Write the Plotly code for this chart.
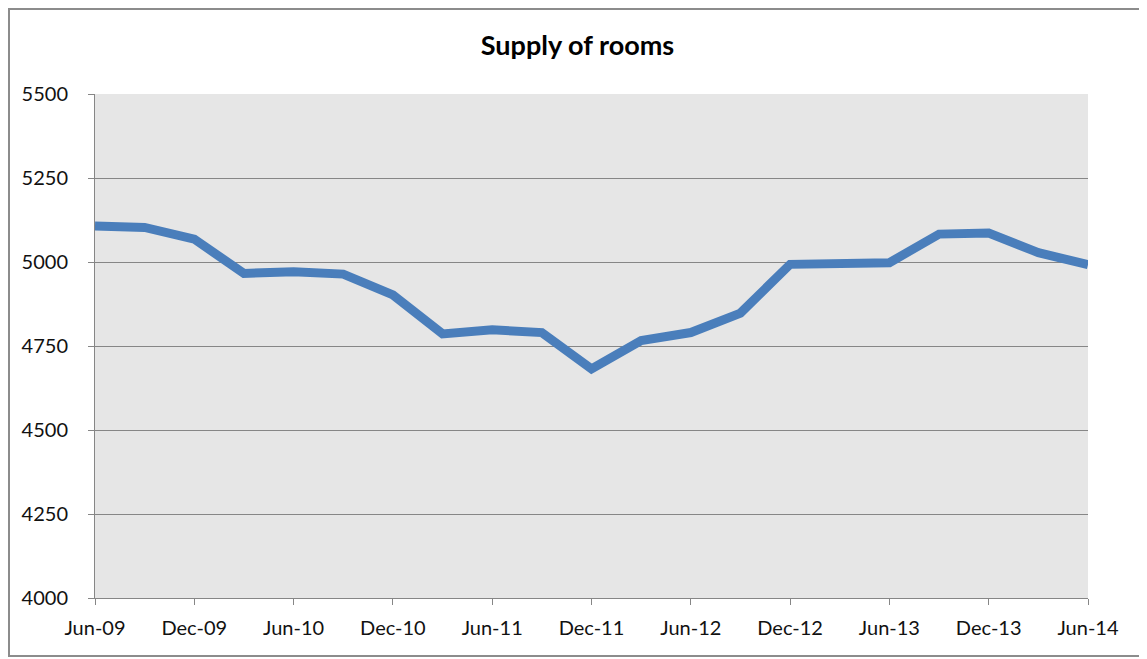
import plotly.graph_objects as go

periods = ["Jun-09", "Sep-09", "Dec-09", "Mar-10", "Jun-10", "Sep-10", "Dec-10",
           "Mar-11", "Jun-11", "Sep-11", "Dec-11", "Mar-12", "Jun-12", "Sep-12",
           "Dec-12", "Mar-13", "Jun-13", "Sep-13", "Dec-13", "Mar-14", "Jun-14"]
rooms = [5107, 5103, 5068, 4966, 4971, 4964, 4902,
         4786, 4798, 4790, 4682, 4766, 4790, 4848,
         4993, 4993, 4998, 5083, 5086, 5028, 4992]
tick_labels = periods[::2]
y_ticks = [4000, 4250, 4500, 4750, 5000, 5250, 5500]

xpos = list(range(len(periods)))

fig = go.Figure()
fig.add_trace(go.Scatter(
    x=xpos, y=rooms, mode="lines",
    line=dict(color="#4A7EBB", width=9),
    hovertext=periods, showlegend=False,
))

font_family = "Lato, 'Open Sans', sans-serif"
# page body has an 8px margin; figure spans page x 8..1147, y 8..659
fig.update_layout(
    width=1139, height=651,
    margin=dict(l=87, r=59, t=86, b=61),
    paper_bgcolor="white",
    plot_bgcolor="#E6E6E6",
    title=dict(text="<b>Supply of rooms</b>", x=0.500, xanchor="center",
               y=1 - (46 - 8) / 651, yanchor="middle",
               font=dict(family=font_family, size=27, color="#000000")),
    font=dict(family=font_family, size=20, color="#111111"),
    xaxis=dict(
        range=[0, len(periods) - 1],
        tickmode="array", tickvals=xpos[::2], ticktext=tick_labels,
        showgrid=False, zeroline=False,
        showline=True, linecolor="#868686", linewidth=1,
        ticks="outside", ticklen=6, tickcolor="#868686",
        ticklabelstandoff=6,
    ),
    yaxis=dict(
        range=[4000, 5500],
        tickmode="array", tickvals=y_ticks,
        showgrid=True, gridcolor="#868686", gridwidth=1,
        zeroline=False,
        showline=True, linecolor="#868686", linewidth=1,
        ticks="outside", ticklen=6, tickcolor="#868686",
        ticklabelstandoff=16,
    ),
    shapes=[dict(
        type="rect", xref="paper", yref="paper",
        x0=(9 - 95) / 993, x1=(1144 - 95) / 993,
        y0=(598 - 656) / 504, y1=(598 - 9) / 504,
        line=dict(color="#8C8C8C", width=2), fillcolor="rgba(0,0,0,0)",
        layer="below",
    )],
)

fig.write_html("out.html")
